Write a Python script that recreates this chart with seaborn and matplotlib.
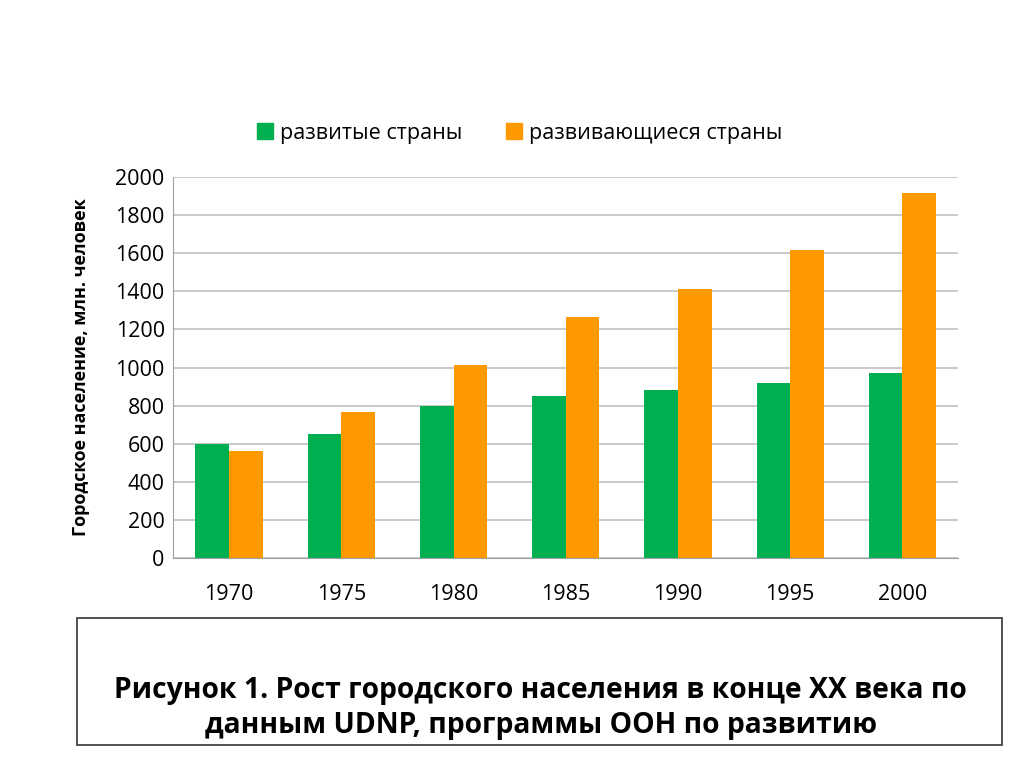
import pandas as pd
import matplotlib
matplotlib.use("Agg")
import matplotlib.pyplot as plt
import seaborn as sns
from matplotlib.patches import Rectangle
from matplotlib.lines import Line2D

years = ["1970", "1975", "1980", "1985", "1990", "1995", "2000"]
developed = [600, 650, 800, 850, 880, 920, 970]
developing = [560, 765, 1015, 1265, 1415, 1615, 1915]
series_names = ["развитые страны", "развивающиеся страны"]
colors = ["#00B050", "#FF9900"]

df = pd.DataFrame({
    "year": years * 2,
    "value": developed + developing,
    "series": [series_names[0]] * len(years) + [series_names[1]] * len(years),
})

sns.set_style("white")
plt.rcParams["font.family"] = ["Open Sans", "DejaVu Sans"]
plt.rcParams["text.color"] = "black"
plt.rcParams["axes.labelcolor"] = "black"
plt.rcParams["xtick.color"] = "black"
plt.rcParams["ytick.color"] = "black"

fig = plt.figure(figsize=(10.24, 7.67), dpi=100)
ax = fig.add_axes([0.169, 0.2725, 0.767, 0.4966])

sns.barplot(data=df, x="year", y="value", hue="series", order=years,
            hue_order=series_names, palette=colors, width=0.6,
            saturation=1, linewidth=0, ax=ax, legend=False)

ax.set_ylim(0, 2000)
ax.set_xlim(-0.5, len(years) - 0.5)
ax.set_yticks(range(0, 2001, 200))
ax.yaxis.grid(True, color="#c0c0c0", linewidth=1.2)
ax.set_axisbelow(True)
for s in ["top", "right"]:
    ax.spines[s].set_visible(False)
ax.spines["left"].set_color("#a0a0a0")
ax.spines["bottom"].set_color("#a0a0a0")
ax.tick_params(axis="y", labelsize=15.5, length=0, pad=6)
ax.tick_params(axis="x", labelsize=15.5, length=0, pad=19)
ax.set_xticks([i + 0.5 for i in range(-1, len(years))], minor=True)
ax.tick_params(axis="x", which="minor", length=7, color="#a0a0a0", direction="out")
ax.set_xlabel("")
ax.set_ylabel("Городское население, млн. человек", fontsize=13,
              fontweight="bold", labelpad=18)

handles = [Line2D([], [], marker="s", linestyle="", markersize=12,
                  markerfacecolor=c, markeredgecolor=c) for c in colors]
fig.legend(handles, series_names, loc="center", bbox_to_anchor=(0.505, 0.826),
           ncol=2, frameon=False, fontsize=15.5, handletextpad=0.1,
           handlelength=1.2, columnspacing=1.8)

fig.add_artist(Rectangle((77 / 1024, 1 - 745 / 767), 925 / 1024, 127 / 767,
                         transform=fig.transFigure, fill=False,
                         edgecolor="#333333", linewidth=1.2))
fig.text(0.528, 1 - 708 / 767,
         "Рисунок 1. Рост городского населения в конце XX века по\n"
         "данным UDNP, программы ООН по развитию",
         ha="center", va="center", fontsize=20.3, fontweight="bold",
         linespacing=1.3, family=["Open Sans", "DejaVu Sans"])

fig.savefig("out.png", dpi=100)
